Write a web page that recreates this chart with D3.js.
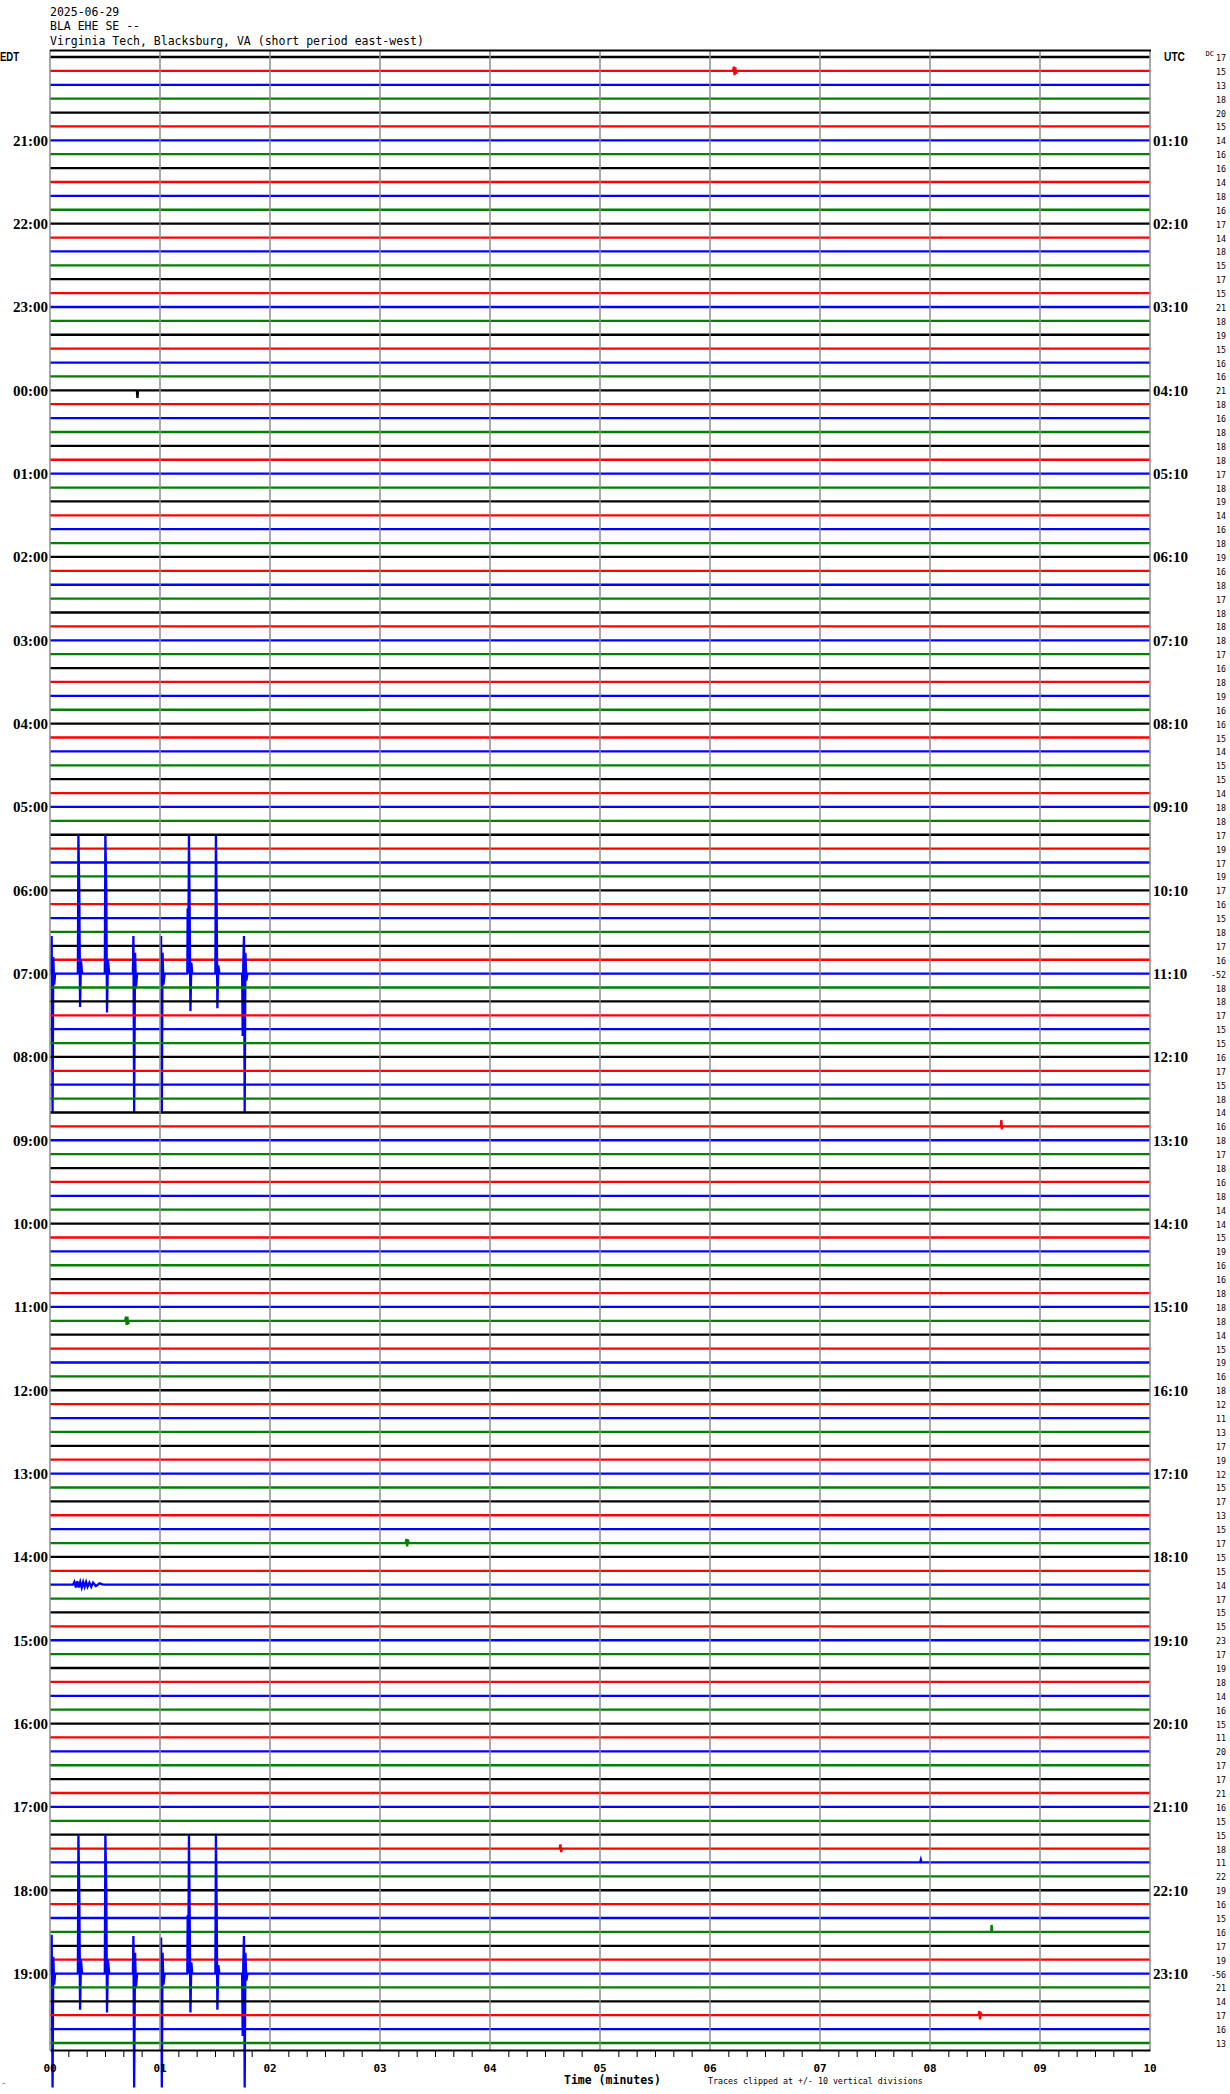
<!DOCTYPE html>
<html>
<head>
<meta charset="utf-8">
<script src="https://cdn.jsdelivr.net/npm/d3@7"></script>
<style>
  html, body { margin: 0; padding: 0; background: #ffffff; }
  svg { display: block; }
</style>
</head>
<body>
<svg id="chart" width="1230" height="2094"></svg>
<script>
// ---------------- data ----------------
const headerLines = ["2025-06-29", "BLA EHE SE --", "Virginia Tech, Blacksburg, VA (short period east-west)"];

// DC offset printed at the right of each 10-minute trace (144 traces)
const dcValues = [
  17,15,13,18,20,15,14,16,16,14,18,16,17,14,18,15,17,15,21,18,19,15,16,16,21,18,16,18,18,
  18,17,18,19,14,16,18,19,16,18,17,18,18,18,17,16,18,19,16,16,15,14,15,15,14,18,18,17,19,
  17,19,17,16,15,18,17,16,-52,18,18,17,15,15,16,17,15,18,14,16,18,17,18,16,18,14,14,15,19,
  16,16,18,18,18,14,15,19,16,18,12,11,13,17,19,12,15,17,13,15,17,15,15,14,17,15,15,23,17,
  19,18,14,16,15,11,20,17,17,21,16,15,15,18,11,22,19,16,15,16,17,19,-56,21,14,17,16,13
];

// hour labels (every 6th trace, starting at trace 6)
const edtLabels = ["21:00","22:00","23:00","00:00","01:00","02:00","03:00","04:00","05:00","06:00","07:00","08:00",
                   "09:00","10:00","11:00","12:00","13:00","14:00","15:00","16:00","17:00","18:00","19:00"];
const utcLabels = ["01:10","02:10","03:10","04:10","05:10","06:10","07:10","08:10","09:10","10:10","11:10","12:10",
                   "13:10","14:10","15:10","16:10","17:10","18:10","19:10","20:10","21:10","22:10","23:10"];
const minuteLabels = ["00","01","02","03","04","05","06","07","08","09","10"];

// notable signals: trace index, then [seconds into trace, amplitude in vertical divisions]
const events = [
  { row: 1,   pts: [[372.6,0],[373.0,0.3],[373.4,-0.3],[373.8,0.25],[374.2,-0.2],[374.6,0]] },
  { row: 24,  pts: [[47.4,0],[47.7,-0.55],[48.0,0]] },
  { row: 66,  pts: [[0.6,0],[0.9,2.7],[1.4,-10],[1.8,1.2],[2.3,-0.8],[2.8,0],
                    [15.2,0],[15.5,10],[16.0,5.5],[16.4,-2.4],[16.9,1.0],[17.5,0],
                    [29.9,0],[30.2,10],[30.7,6],[31.1,-2.8],[31.6,1.0],[32.3,0],
                    [45.2,0],[45.5,2.7],[45.9,-10],[46.4,1.5],[46.9,-1.0],[47.5,0],
                    [60.3,0],[60.6,2.7],[61.0,-10],[61.4,1.5],[61.9,-0.8],[62.5,0],
                    [74.9,0],[75.1,4.7],[75.4,0],[75.8,10],[76.2,4],[76.6,-2.7],[77.1,0.8],[77.6,0],
                    [90.2,0],[90.5,10],[90.9,5],[91.3,-2.5],[91.8,0.6],[92.4,0],
                    [104.8,0],[105.1,-4.5],[105.4,0.5],[105.8,2.7],[106.2,-10],[106.6,1.5],[107.1,-0.5],[107.7,0]] },
  { row: 77,  pts: [[518.6,0],[518.9,0.45],[519.2,-0.2],[519.5,0]] },
  { row: 91,  pts: [[41,0],[41.4,0.3],[41.8,-0.3],[42.2,0.3],[42.6,-0.25],[43,0]] },
  { row: 107, pts: [[194,0],[194.4,0.3],[194.8,-0.25],[195.2,0.25],[195.6,0]] },
  { row: 110, pts: [[12.5,0],[13.3,0.2],[14.1,-0.2],[14.9,0.25],[15.7,-0.2],[16.5,0.2],[17.3,-0.2],[18.1,0.2],
                    [18.9,-0.15],[19.7,0.2],[20.5,-0.15],[21.5,0.15],[22.5,-0.15],[23.5,0.15],[25,-0.1],[27,0.1],[29,0]] },
  { row: 129, pts: [[278,0],[278.4,0.3],[278.8,-0.25],[279.2,0]] },
  { row: 130, pts: [[474.6,0],[475,0.2],[475.4,0]] },
  { row: 135, pts: [[513.4,0],[513.6,0.5],[513.9,0]] },
  { row: 138, pts: [[0.6,0],[0.9,2.8],[1.4,-8.2],[1.8,1.2],[2.3,-0.8],[2.8,0],
                    [15.2,0],[15.5,10],[16.0,5.5],[16.4,-2.6],[16.9,1.0],[17.5,0],
                    [29.9,0],[30.2,10],[30.7,6],[31.1,-2.8],[31.6,1.0],[32.3,0],
                    [45.2,0],[45.5,2.7],[45.9,-8.2],[46.4,1.5],[46.9,-1.0],[47.5,0],
                    [60.3,0],[60.6,2.6],[61.0,-8.2],[61.4,1.5],[61.9,-0.8],[62.5,0],
                    [74.9,0],[75.1,4.2],[75.4,0],[75.8,10],[76.2,4],[76.6,-2.8],[77.1,0.8],[77.6,0],
                    [90.2,0],[90.5,10],[90.9,5],[91.3,-2.6],[91.8,0.6],[92.4,0],
                    [104.8,0],[105.1,-4.5],[105.4,0.5],[105.8,2.7],[106.2,-8.2],[106.6,1.5],[107.1,-0.5],[107.7,0]] },
  { row: 141, pts: [[506.5,0],[506.9,0.3],[507.3,-0.3],[507.7,0.2],[508.1,0]] }
];

(function () {
// ---------------- layout ----------------
const traceColors = ["#000000", "#ff0000", "#0000ff", "#007f00"];
const nRows = dcValues.length;
const plotLeft = 50, plotRight = 1150, plotTop = 50, axisY = 2050;

const svg = d3.select("#chart");

const x = d3.scaleLinear().domain([0, 600]).range([plotLeft, plotRight]);
const rowY = d3.scaleLinear().domain([0, nRows - 1]).range([57, 2043]);
const divPx = rowY(1) - rowY(0);
const amp = d3.scaleLinear().domain([-10, 10]).range([10 * divPx, -10 * divPx]).clamp(true);

const mono = "'DejaVu Sans Mono', 'Liberation Mono', monospace";
const serif = "'Liberation Serif', 'DejaVu Serif', serif";

// header
svg.append("g").selectAll("text").data(headerLines).join("text")
  .attr("x", plotLeft).attr("y", (d, i) => [16, 30, 45][i])
  .attr("font-family", mono).attr("font-size", 11.5).attr("fill", "#000")
  .text(d => d);

// EDT / UTC / DC
svg.append("text").attr("x", 0).attr("y", 61).attr("font-family", "'Liberation Sans', Arial, sans-serif")
  .attr("font-weight", "bold").attr("font-size", 12).attr("textLength", 19).attr("lengthAdjust", "spacingAndGlyphs").text("EDT");
svg.append("text").attr("x", 1164).attr("y", 61).attr("font-family", "'Liberation Sans', Arial, sans-serif")
  .attr("font-weight", "bold").attr("font-size", 12).attr("textLength", 21).attr("lengthAdjust", "spacingAndGlyphs").text("UTC");
svg.append("text").attr("x", 1205.5).attr("y", 56).attr("font-family", mono).attr("font-size", 7).text("DC");

// traces
const line = d3.line().x(d => x(d[0])).y(d => d[2] + amp(d[1]));
const traces = svg.append("g").attr("fill", "none");
d3.range(nRows).forEach(r => {
  const evPts = events.filter(e => e.row === r).flatMap(e => e.pts);
  const pts = [[0, 0], ...evPts, [600, 0]].sort((a, b) => a[0] - b[0]).map(p => [p[0], p[1], rowY(r)]);
  traces.append("path")
    .attr("d", line(pts))
    .attr("stroke", traceColors[r % 4])
    .attr("stroke-width", 2.3)
    .attr("stroke-linejoin", "miter");
});

// vertical minute gridlines
svg.append("g").selectAll("line").data(d3.range(0, 601, 60)).join("line")
  .attr("x1", d => x(d)).attr("x2", d => x(d))
  .attr("y1", plotTop).attr("y2", axisY)
  .attr("stroke", "#8c8c8c").attr("stroke-width", 1.5);

// top border
svg.append("line").attr("x1", plotLeft).attr("x2", plotRight + 1).attr("y1", plotTop + 0.5).attr("y2", plotTop + 0.5)
  .attr("stroke", "#000").attr("stroke-width", 2);

// left / right hour labels
const labelRows = d3.range(6, nRows, 6);
svg.append("g").selectAll("text").data(labelRows).join("text")
  .attr("x", 48).attr("y", r => rowY(r) + 5.5).attr("text-anchor", "end")
  .attr("font-family", serif).attr("font-weight", "bold").attr("font-size", 15)
  .text((r, i) => edtLabels[i]);
svg.append("g").selectAll("text").data(labelRows).join("text")
  .attr("x", 1153).attr("y", r => rowY(r) + 5.5)
  .attr("font-family", serif).attr("font-weight", "bold").attr("font-size", 15)
  .text((r, i) => utcLabels[i]);

// DC column
svg.append("g").selectAll("text").data(dcValues).join("text")
  .attr("x", 1226).attr("y", (d, i) => rowY(i) + 4).attr("text-anchor", "end")
  .attr("font-family", mono).attr("font-size", 8.3)
  .text(d => d);

// x axis
const axisG = svg.append("g").attr("transform", `translate(0,${axisY})`)
  .call(d3.axisBottom(x).tickValues(d3.range(10, 600, 10).filter(v => v % 60 !== 0)).tickSize(7).tickSizeOuter(0).tickFormat(""));
axisG.select(".domain").attr("stroke", "#000").attr("stroke-width", 2.2);
axisG.selectAll(".tick line").attr("stroke", "#000").attr("stroke-width", 1);

svg.append("g").selectAll("text").data(d3.range(0, 601, 60)).join("text")
  .attr("x", d => x(d)).attr("y", 2072).attr("text-anchor", "middle")
  .attr("font-family", mono).attr("font-weight", "bold").attr("font-size", 11)
  .text((d, i) => minuteLabels[i]);

svg.append("text").attr("x", 564).attr("y", 2083.5)
  .attr("font-family", mono).attr("font-weight", "bold").attr("font-size", 11.5)
  .text("Time (minutes)");
svg.append("text").attr("x", 708).attr("y", 2083.5)
  .attr("font-family", mono).attr("font-size", 8.3)
  .text("Traces clipped at +/- 10 vertical divisions");
svg.append("text").attr("x", 2).attr("y", 2087)
  .attr("font-family", mono).attr("font-size", 6)
  .text("^");
})();
</script>
</body>
</html>
